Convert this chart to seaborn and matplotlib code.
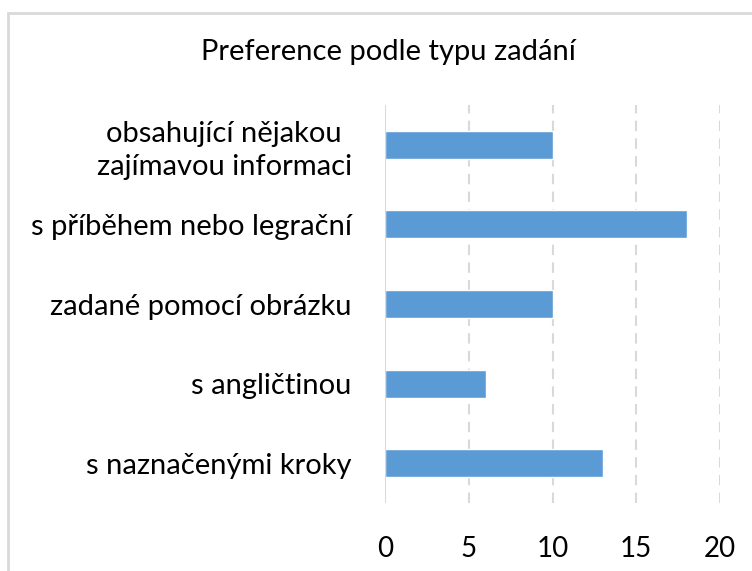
import matplotlib
matplotlib.use("Agg")
import matplotlib.pyplot as plt
import seaborn as sns
import pandas as pd
from matplotlib.patches import Rectangle

categories = [
    "obsahující nějakou\nzajímavou informaci",
    "s příběhem nebo legrační",
    "zadané pomocí obrázku",
    "s angličtinou",
    "s naznačenými kroky",
]
values = [10, 18, 10, 6, 13]
x_ticks = [0, 5, 10, 15, 20]
title = "Preference podle typu zadání"

sns.set_theme(style="white")
plt.rcParams["font.family"] = ["Lato", "DejaVu Sans"]

W, H = 752, 571
fig = plt.figure(figsize=(W / 100, H / 100), dpi=100)
ax = fig.add_axes([385 / W, 1 - 503 / H, (720 - 385) / W, (503 - 105) / H])

df = pd.DataFrame({"kategorie": categories, "pocet": values})
sns.barplot(data=df, y="kategorie", x="pocet", orient="h", color="#5B9BD5",
            saturation=1, width=0.35, ax=ax, zorder=3)

ax.set_xlim(0, 20)
ax.set_xticks(x_ticks)
ax.set_xticklabels([str(t) for t in x_ticks])
ax.set_xlabel("")
ax.set_ylabel("")

for t in x_ticks[1:]:
    ax.axvline(t, color="#D9D9D9", lw=1.5, ls=(0, (5, 3.5)), zorder=1)
ax.axvline(0, color="#D9D9D9", lw=1.5, zorder=4)

for s in ax.spines.values():
    s.set_visible(False)
ax.tick_params(axis="both", length=0, colors="#000000")
ax.tick_params(axis="y", pad=24, labelsize=21)
ax.tick_params(axis="x", pad=24, labelsize=20)
for lab in ax.get_yticklabels():
    lab.set_multialignment("center")
    lab.set_linespacing(1.3)

fig.text(388 / W, 1 - 52 / H, title, ha="center", va="center", fontsize=21, color="#000000")

fig.patches.append(Rectangle((8 / W, -0.1), 1.2, 1 - 13 / H + 0.1,
                             transform=fig.transFigure, fill=False,
                             edgecolor="#D9D9D9", lw=2))

fig.savefig("out.png", dpi=100)
